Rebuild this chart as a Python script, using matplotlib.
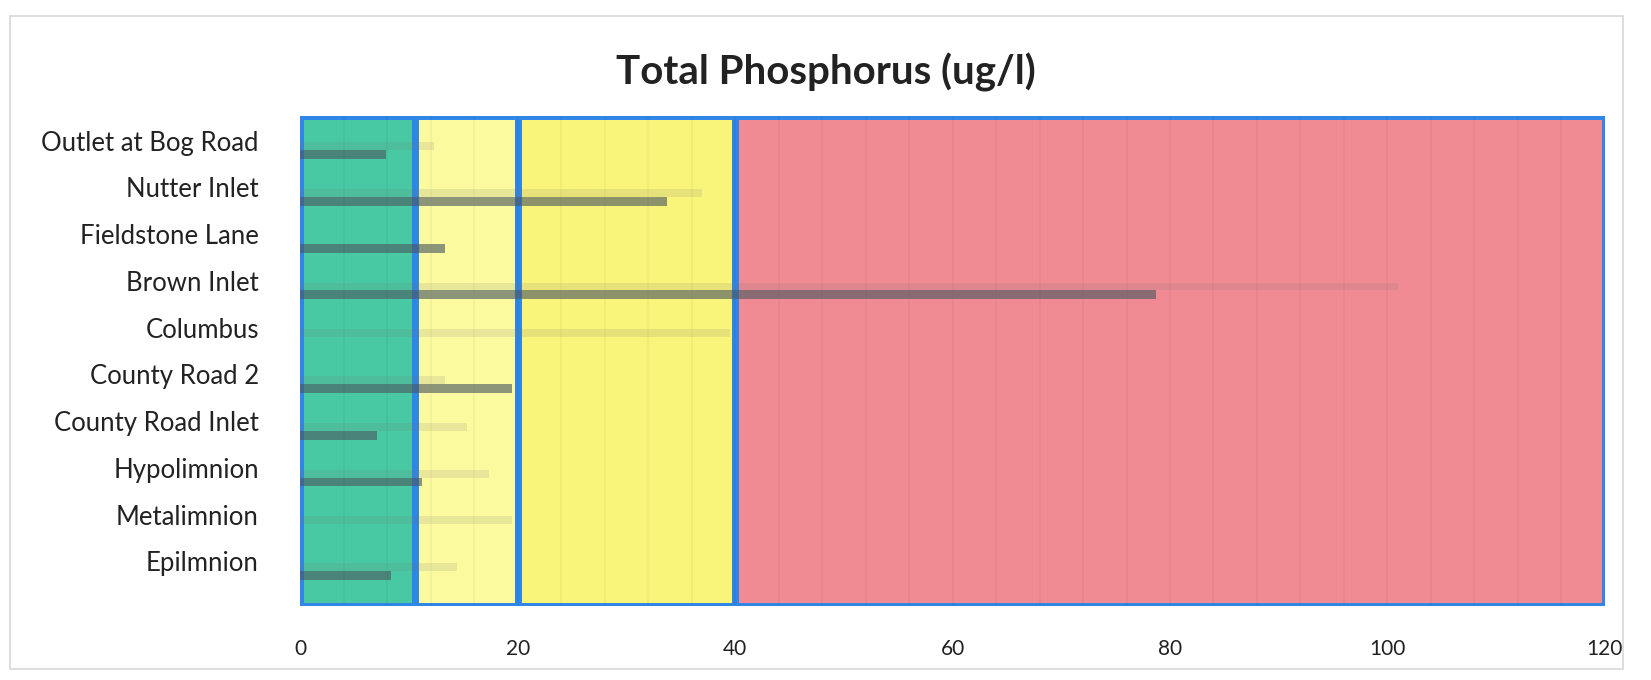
import numpy as np
import matplotlib
matplotlib.use("Agg")
import matplotlib.pyplot as plt
from matplotlib.patches import Rectangle

plt.rcParams['font.family'] = ['Lato', 'DejaVu Sans']

# sites, top to bottom as in the chart
sites = ["Outlet at Bog Road", "Nutter Inlet", "Fieldstone Lane", "Brown Inlet",
         "Columbus", "County Road 2", "County Road Inlet", "Hypolimnion",
         "Metalimnion", "Epilmnion"]
# current values (dark bars) and earlier values (faint bars), ug/l
current = [7.9, 33.7, 13.3, 78.7, 0, 19.5, 7.0, 11.2, 0, 8.3]
previous = [12.3, 36.9, 0, 101, 39.5, 13.3, 15.3, 17.3, 19.5, 14.4]

# threshold zones
zone_start = [0, 10.5, 20, 40]
zone_end = [10.5, 20, 40, 120]
zone_colors = ["#48c9a3", "#fbfa9f", "#f9f47a", "#f08a93"]

fig = plt.figure(figsize=(16.51, 6.8), dpi=100)
ax = fig.add_axes([0.182, 0.109, 0.790, 0.720])

# light outer chart border
fig.patches.append(Rectangle((0.006, 0.016), 0.977, 0.961, transform=fig.transFigure,
                             fill=False, edgecolor="#d8d8d8", linewidth=1.2))

y = np.arange(len(sites))
ax.set_xlim(0, 120)
ax.set_ylim(9.95, -0.52)

for s, e, c in zip(zone_start, zone_end, zone_colors):
    ax.add_patch(Rectangle((s, -0.52), e - s, 10.47, facecolor=c,
                           edgecolor="#2f86e6", linewidth=5, zorder=1))

# faint vertical streaks / gridlines
for gx in np.arange(4, 120, 4):
    ax.axvline(gx, color="#000000", alpha=0.03, linewidth=1.5, zorder=2)

ax.barh(y + 0.12, previous, height=0.17, color="#777777", alpha=0.14, zorder=3)
ax.barh(y + 0.30, current, height=0.19, color="#4a5862", alpha=0.62, zorder=4)

ax.set_yticks(y)
ax.set_yticklabels(sites, fontsize=18.5, color="#222222")
ax.set_xticks(np.arange(0, 121, 20))
ax.set_xticklabels([str(v) for v in range(0, 121, 20)], fontsize=15, color="#222222")
ax.tick_params(axis="both", length=0)
ax.tick_params(axis="y", pad=30)
ax.tick_params(axis="x", pad=24)
for sp in ax.spines.values():
    sp.set_visible(False)

fig.text(0.5, 0.893, "Total Phosphorus (ug/l)", ha="center", va="center",
         fontsize=29, fontweight="bold", color="#222222")

fig.savefig("out.png", dpi=100)
